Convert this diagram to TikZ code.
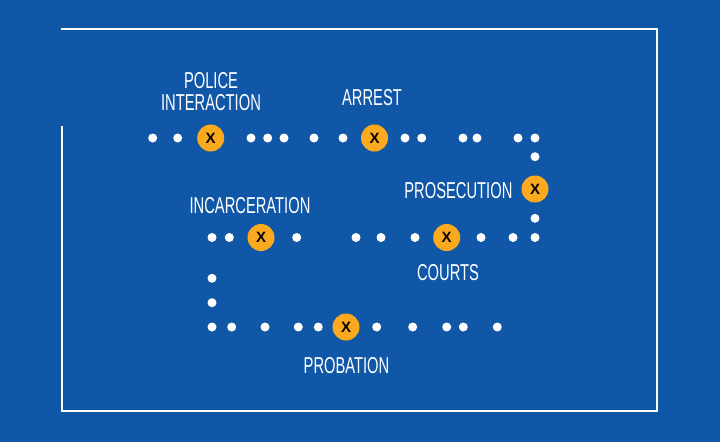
\documentclass[tikz,border=0pt]{standalone}
\usepackage{fontspec}
\setmainfont{Liberation Sans}[FakeStretch=0.64]
\newfontfamily\xfont{Liberation Sans}
\definecolor{bg}{HTML}{1157A7}
\definecolor{markc}{HTML}{FBAA1F}
\begin{document}
\begin{tikzpicture}[x=1pt,y=-1pt,
  dot/.style={circle,fill=white,inner sep=0pt,minimum size=9pt},
  xmark/.style={circle,fill=markc,inner sep=0pt,minimum size=27pt,text=black,font=\xfont\bfseries\fontsize{15}{15}\selectfont},
  lbl/.style={text=white,font=\fontsize{23}{22}\selectfont,align=center,inner sep=0pt}]
\fill[bg] (0,0) rectangle (720,442);
\useasboundingbox (0,0) rectangle (720,442);
\draw[white,line width=2pt] (62,126) -- (62,411) -- (657,411) -- (657,29) -- (61,29);
% dots
\foreach \x in {152.7,177.7,251,267.7,284,314,343,405,421.7,463,477,518,535}
  \node[dot] at (\x,138) {};
\foreach \y in {156.7,218.3}
  \node[dot] at (535,\y) {};
\foreach \x in {212,229.3,296.7,356,381,415,481,513,535}
  \node[dot] at (\x,237.5) {};
\foreach \y in {278.3,302.7}
  \node[dot] at (212,\y) {};
\foreach \x in {212,231.7,265,298.3,318.3,376.7,412.7,446.7,463.3,497.3}
  \node[dot] at (\x,327) {};
% marks
\node[xmark] (police) at (210.7,138) {X};
\node[xmark] (arrest) at (374.5,138) {X};
\node[xmark] (prosecution) at (535,189) {X};
\node[xmark] (courts) at (446.7,237.5) {X};
\node[xmark] (incarceration) at (261,237.5) {X};
\node[xmark] (probation) at (346,327) {X};
% labels
\node[lbl] (lpolice) at (211,91.5) {POLICE\\INTERACTION};
\node[lbl,anchor=base] (larrest) at (372,105) {ARREST};
\node[lbl,anchor=base] (lprosecution) at (458.4,198.3) {PROSECUTION};
\node[lbl,anchor=base] (lincarceration) at (250,213.3) {INCARCERATION};
\node[lbl,anchor=base] (lcourts) at (448,280) {COURTS};
\node[lbl,anchor=base] (lprobation) at (346.5,373.3) {PROBATION};
\end{tikzpicture}
\end{document}
